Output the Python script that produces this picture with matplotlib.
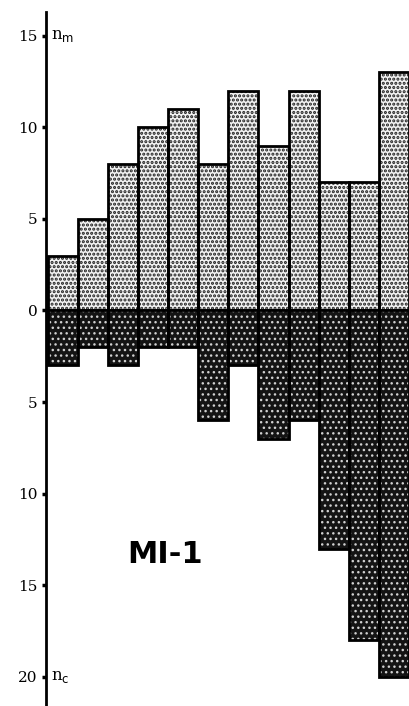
import matplotlib.pyplot as plt

# counts per position, upper (n_m) and lower (n_c)
positions = [1, 2, 3, 4, 5, 6, 7, 8, 9, 10, 11, 12]
n_m = [3, 5, 8, 10, 11, 8, 12, 9, 12, 7, 7, 13]
n_c = [3, 2, 3, 2, 2, 6, 3, 7, 6, 13, 18, 20]
tick_vals = [-20, -15, -10, -5, 0, 5, 10, 15]
tick_labels = ["20", "15", "10", "5", "0", "5", "10", "15"]

fig = plt.figure(figsize=(4.09, 7.06), dpi=100)
ax = fig.add_axes([0.1125, 0.0, 0.8875, 1 - 12 / 706])

# upper bars: light stipple
plt.rcParams["hatch.linewidth"] = 1.5
ax.bar(positions, n_m, width=1.0, color="#f2f2f2", edgecolor="#202020",
       hatch="....", linewidth=0)
ax.bar(positions, n_m, width=1.0, fill=False, edgecolor="black", linewidth=2)

# lower bars: dark with light dots
plt.rcParams["hatch.linewidth"] = 1.0
neg = [-v for v in n_c]
ax.bar(positions, neg, width=1.0, color="#141414", edgecolor="#d0d0d0",
       hatch="...", linewidth=0)
ax.bar(positions, neg, width=1.0, fill=False, edgecolor="black", linewidth=2)

ax.set_xlim(0.45, 12.5)
ax.set_ylim(-21.6, 16.3)

for s in ["top", "right", "bottom"]:
    ax.spines[s].set_visible(False)
ax.spines["left"].set_linewidth(2)
ax.set_xticks([])
ax.set_yticks(tick_vals)
ax.set_yticklabels(tick_labels, family="DejaVu Serif", fontsize=11)
ax.tick_params(axis="y", length=3, width=2.5, pad=3)

ax.text(0.6, 15.0, r"n$_{\rm m}$", family="DejaVu Serif", fontsize=12,
        va="center", ha="left")
ax.text(0.6, -20.0, r"n$_{\rm c}$", family="DejaVu Serif", fontsize=12,
        va="center", ha="left")
ax.text(4.4, -13.3, "MI-1", fontsize=22, fontweight="bold",
        ha="center", va="center")

fig.savefig("out.png", dpi=100)
